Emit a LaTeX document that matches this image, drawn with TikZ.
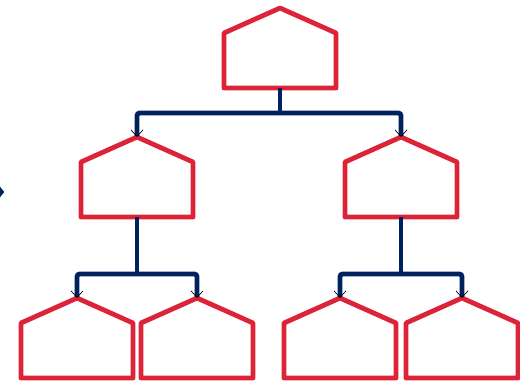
\documentclass[tikz,border=0pt]{standalone}
\usetikzlibrary{arrows.meta,shapes.geometric}
\definecolor{roofred}{HTML}{DC2338}
\definecolor{linknavy}{HTML}{00215F}
\tikzset{
  house/.pic={
    \draw[roofred,line width=3.6pt,line join=round]
      (0,0) -- (56,25) -- (56,80) -- (-56,80) -- (-56,25) -- cycle;
    \coordinate (-apex) at (0,0);
    \coordinate (-base) at (0,80);
  },
  stem/.style={draw=linknavy,line width=3.6pt},
  link/.style={draw=linknavy,line width=3.6pt,rounded corners=2pt,
    -{Straight Barb[black,line width=0.5pt,length=5pt,width=9pt]}},
}
\begin{document}
\begin{tikzpicture}[x=0.75pt,y=-0.75pt]
  \useasboundingbox (0,0) rectangle (520,380);

  % houses
  \pic (top) at (280,8) {house};
  \pic (ml) at (137,137) {house};
  \pic (mr) at (401,137) {house};
  \pic (bla) at (77,298) {house};
  \pic (blb) at (197,298) {house};
  \pic (bra) at (340,298) {house};
  \pic (brb) at (462,298) {house};

  % small marker on the left edge
  \node[diamond,fill=linknavy,inner sep=0pt,minimum width=8pt,minimum height=10pt]
    (lmark) at (-1,192) {};

  % level 1 links
  \draw[stem] (top-base) -- ++(0,25) coordinate (j0);
  \draw[link] (j0) -| (ml-apex);
  \draw[link] (j0) -| (mr-apex);

  % level 2 links, left
  \draw[stem] (ml-base) -- ++(0,57) coordinate (j1);
  \draw[link] (j1) -| (bla-apex);
  \draw[link] (j1) -| (blb-apex);

  % level 2 links, right
  \draw[stem] (mr-base) -- ++(0,57) coordinate (j2);
  \draw[link] (j2) -| (bra-apex);
  \draw[link] (j2) -| (brb-apex);
\end{tikzpicture}
\end{document}
